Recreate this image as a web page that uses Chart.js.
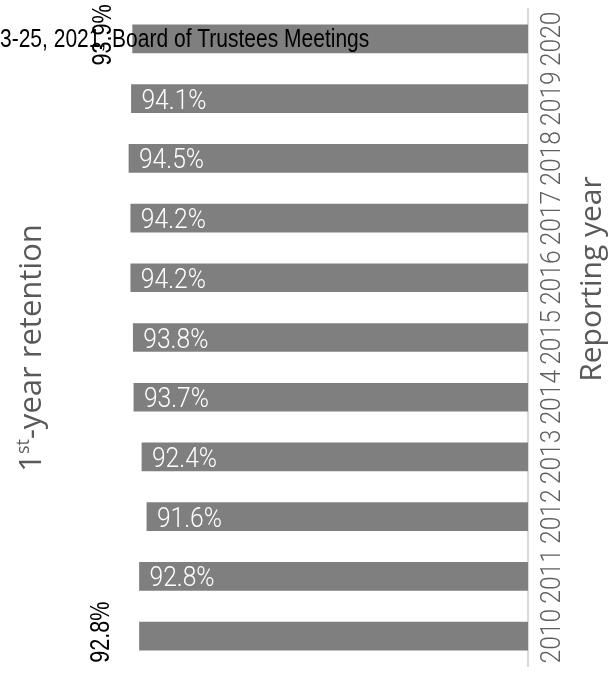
<!DOCTYPE html>
<html>
<head>
<meta charset="utf-8">
<script src="https://cdn.jsdelivr.net/npm/chart.js@4/dist/chart.umd.min.js"></script>
<style>
  body { margin: 0; background: #fff; }
  canvas { display: block; }
</style>
</head>
<body>
<canvas id="myChart" width="616" height="675"></canvas>
<script>
// top to bottom, as in the picture
const years = ['2020', '2019', '2018', '2017', '2016', '2015', '2014', '2013', '2012', '2011', '2010'];
const retention = [93.9, 94.1, 94.5, 94.2, 94.2, 93.8, 93.7, 92.4, 91.6, 92.8, 92.8];
const leftTitle = ['1', 'st', '-year retention'];
const rightTitle = 'Reporting year';
const caption = '3-25, 2021, Board of Trustees Meetings';

function drawText(ctx, text, x, y, opts) {
    ctx.save();
    ctx.translate(x, y);
    if (opts.rotate) ctx.rotate(-Math.PI / 2);
    ctx.scale(opts.sx || 1, 1);
    ctx.font = opts.font;
    ctx.fillStyle = opts.color;
    ctx.textAlign = opts.align || 'left';
    ctx.textBaseline = 'alphabetic';
    ctx.fillText(text, 0, 0);
    ctx.restore();
}

const textPlugin = {
    id: 'textPlugin',
    afterDatasetsDraw(chart) {
        const ctx = chart.ctx;
        const bars = chart.getDatasetMeta(0).data;
        const last = bars.length - 1;

        bars.forEach((bar, i) => {
            const label = retention[i].toFixed(1) + '%';
            if (i === 0 || i === last) {
                // these two sit outside the bar, turned on their side
                const dx = i === 0 ? 22 : 30;
                drawText(ctx, label, bar.x - dx, bar.y - 4, {
                    rotate: true, sx: 0.8, align: 'center',
                    font: '27px "Liberation Sans", Arial, sans-serif', color: '#000'
                });
            } else {
                drawText(ctx, label, bar.x + 10, bar.y + 10, {
                    sx: 0.88, font: '300 28px Roboto, sans-serif', color: '#fff'
                });
            }
            // year labels right of the axis line
            drawText(ctx, years[i], 560, bar.y, {
                rotate: true, sx: 0.88, align: 'center',
                font: '300 28px Roboto, sans-serif', color: '#5f5f5f'
            });
        });

        // right title
        drawText(ctx, rightTitle, 601, 279, {
            rotate: true, align: 'center',
            font: '30px "Open Sans", sans-serif', color: '#595959'
        });

        // left title with superscript
        ctx.save();
        ctx.translate(41, 348);
        ctx.rotate(-Math.PI / 2);
        ctx.fillStyle = '#595959';
        ctx.textBaseline = 'alphabetic';
        ctx.font = '31px "Open Sans", sans-serif';
        const w1 = ctx.measureText(leftTitle[0]).width;
        const w3 = ctx.measureText(leftTitle[2]).width;
        ctx.font = '18px "Open Sans", sans-serif';
        const w2 = ctx.measureText(leftTitle[1]).width;
        let x0 = -(w1 + w2 + w3) / 2;
        ctx.font = '31px "Open Sans", sans-serif';
        ctx.fillText(leftTitle[0], x0, 0);
        ctx.font = '18px "Open Sans", sans-serif';
        ctx.fillText(leftTitle[1], x0 + w1, -12);
        ctx.font = '31px "Open Sans", sans-serif';
        ctx.fillText(leftTitle[2], x0 + w1 + w2, 0);
        ctx.restore();

        // stray caption text across the top
        drawText(ctx, caption, 0, 47, {
            sx: 0.84, font: '25px "Liberation Sans", Arial, sans-serif', color: '#000'
        });
    }
};

const data = {
    labels: years,
    datasets: [{
        data: retention,
        backgroundColor: '#7f7f7f',
        borderWidth: 0,
        barThickness: 28
    }]
};

const config = {
    type: 'bar',
    data: data,
    options: {
        responsive: false,
        animation: false,
        indexAxis: 'y',
        layout: {
            padding: { left: 111, right: 88, top: 9, bottom: 9 }
        },
        scales: {
            x: {
                display: false,
                reverse: true,
                min: 30,
                max: 97.4
            },
            y: {
                position: 'right',
                ticks: { display: false },
                grid: { display: false, drawTicks: false },
                border: { display: true, color: '#d9d9d9', width: 2 }
            }
        },
        plugins: {
            legend: { display: false },
            tooltip: { enabled: false }
        }
    },
    plugins: [textPlugin]
};

var myChart = new Chart(document.getElementById('myChart'), config);
</script>
</body>
</html>
